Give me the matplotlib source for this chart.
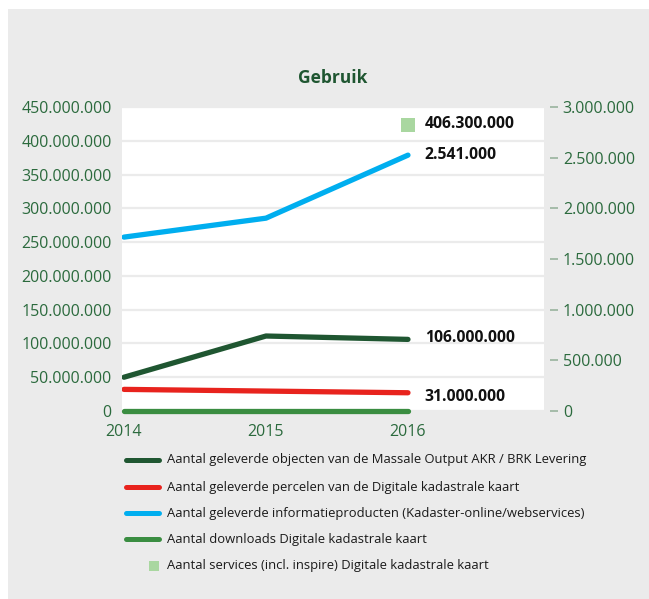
import matplotlib.pyplot as plt
from matplotlib.lines import Line2D
from matplotlib.patches import Rectangle
from matplotlib.ticker import FuncFormatter, MultipleLocator
import matplotlib.transforms as mtransforms


# ----------------------------------------
# DATA
# ----------------------------------------

years = ["2014", "2015", "2016"]

objecten_akr_brk = [50_000_000, 111_000_000, 106_000_000]
percelen_dkk = [32_000_000, 29_500_000, 27_000_000]
informatieproducten = [1_716_000, 1_903_000, 2_525_000]
downloads_dkk = [0, 0, 0]
services_dkk_2016 = 406_300_000

value_labels = {
    "services": "406.300.000",
    "informatieproducten": "2.541.000",
    "objecten": "106.000.000",
    "percelen": "31.000.000",
}

legend_labels = [
    "Aantal geleverde objecten van de Massale Output AKR / BRK Levering",
    "Aantal geleverde percelen van de Digitale kadastrale kaart",
    "Aantal geleverde informatieproducten (Kadaster-online/webservices)",
    "Aantal downloads Digitale kadastrale kaart",
    "Aantal services (incl. inspire) Digitale kadastrale kaart",
]

# ----------------------------------------
# STYLE
# ----------------------------------------

W, H = 649, 599
BG = "#ebebeb"
AXIS_GREEN = "#2b6a3d"
DARK_GREEN = "#1f5631"
RED = "#e8231d"
BLUE = "#00aeef"
GREEN = "#3a8d41"
LIGHT_GREEN = "#a9d7a0"

plt.rcParams["font.family"] = ["Open Sans", "DejaVu Sans"]


def fx(x):
    return x / W


def fy(y):
    return 1 - y / H


def dots(v, pos=None):
    return f"{v:,.0f}".replace(",", ".")


# ----------------------------------------
# FIGURE
# ----------------------------------------

fig = plt.figure(figsize=(W / 100, H / 100), dpi=100, facecolor="white")

panel = Rectangle(
    (fx(8), 0), 1 - fx(8), fy(9),
    transform=fig.transFigure,
    facecolor=BG,
    edgecolor="none",
    zorder=-10
)
fig.add_artist(panel)

ax = fig.add_axes([fx(122), fy(411), fx(544) - fx(122), fy(107) - fy(411)])
ax.set_facecolor("white")
ax2 = ax.twinx()

x = range(len(years))

ax.plot(x, objecten_akr_brk, color=DARK_GREEN, lw=3.8,
        solid_capstyle="round", zorder=3)
ax.plot(x, percelen_dkk, color=RED, lw=3.8,
        solid_capstyle="round", zorder=3)
ax.plot(x, downloads_dkk, color=GREEN, lw=3.8,
        solid_capstyle="round", zorder=3, clip_on=False)
ax2.plot(x, informatieproducten, color=BLUE, lw=3.8,
         solid_capstyle="round", zorder=3)

# services marker sits a bit above its value in the original
shift_up = mtransforms.ScaledTranslation(0, 12 / 100, fig.dpi_scale_trans)
ax.scatter([2], [services_dkk_2016], marker="s", s=95, color=LIGHT_GREEN,
           transform=ax.transData + shift_up, zorder=4,
           linewidths=0)

ax.set_xlim(-0.014, 2.958)
ax.set_ylim(0, 450_000_000)
ax2.set_ylim(0, 3_000_000)

ax.yaxis.set_major_locator(MultipleLocator(50_000_000))
ax.yaxis.set_major_formatter(FuncFormatter(dots))
ax2.yaxis.set_major_locator(MultipleLocator(500_000))
ax2.yaxis.set_major_formatter(FuncFormatter(dots))

ax.set_xticks(list(x))
ax.set_xticklabels(years)

for a in (ax, ax2):
    for s in a.spines.values():
        s.set_visible(False)

ax.grid(axis="y", color=BG, lw=1.6, zorder=1)
ax.set_axisbelow(True)

ax.tick_params(axis="y", length=0, pad=7.5, labelsize=11.5,
               labelcolor=AXIS_GREEN)
ax.tick_params(axis="x", length=0, pad=9.5, labelsize=11.5,
               labelcolor=AXIS_GREEN)
ax.get_yticklabels()[0].set_color("#1a1a1a")

ax2.spines["right"].set_position(("outward", 4))
ax2.tick_params(axis="y", length=6, width=1.3, color="#9fb8a3", pad=3.5,
                labelsize=11.5, labelcolor=AXIS_GREEN)

# value labels
label_kw = dict(textcoords="offset points", fontsize=11.3, fontweight="bold",
                color="#111111", ha="left", va="center")
ax.annotate(value_labels["services"], (2, services_dkk_2016),
            xytext=(12, 9), **label_kw)
ax2.annotate(value_labels["informatieproducten"], (2, informatieproducten[2]),
             xytext=(12, 0), **label_kw)
ax.annotate(value_labels["objecten"], (2, objecten_akr_brk[2]),
            xytext=(12, 1), **label_kw)
ax.annotate(value_labels["percelen"], (2, percelen_dkk[2]),
            xytext=(12, -3), **label_kw)

fig.text(fx(333), fy(78), "Gebruik", ha="center", va="center",
         fontsize=12.5, fontweight="bold", color=DARK_GREEN)

# ----------------------------------------
# LEGEND
# ----------------------------------------

legend_colors = [DARK_GREEN, RED, BLUE, GREEN]
row_y = [460, 487, 513, 539, 566]

for i, label in enumerate(legend_labels):
    y = row_y[i]
    if i < len(legend_colors):
        fig.add_artist(
            Line2D([fx(126), fx(159)], [fy(y), fy(y)],
                   transform=fig.transFigure, color=legend_colors[i],
                   lw=3.6, solid_capstyle="round")
        )
    else:
        fig.add_artist(
            Rectangle((fx(149), fy(y + 5)), fx(10), 10 / H,
                      transform=fig.transFigure, facecolor=LIGHT_GREEN,
                      edgecolor="none")
        )
    fig.text(fx(167), fy(y), label, ha="left", va="center",
             fontsize=9.4, color="#1a1a1a")

fig.savefig("out.png", dpi=100, facecolor=fig.get_facecolor())
